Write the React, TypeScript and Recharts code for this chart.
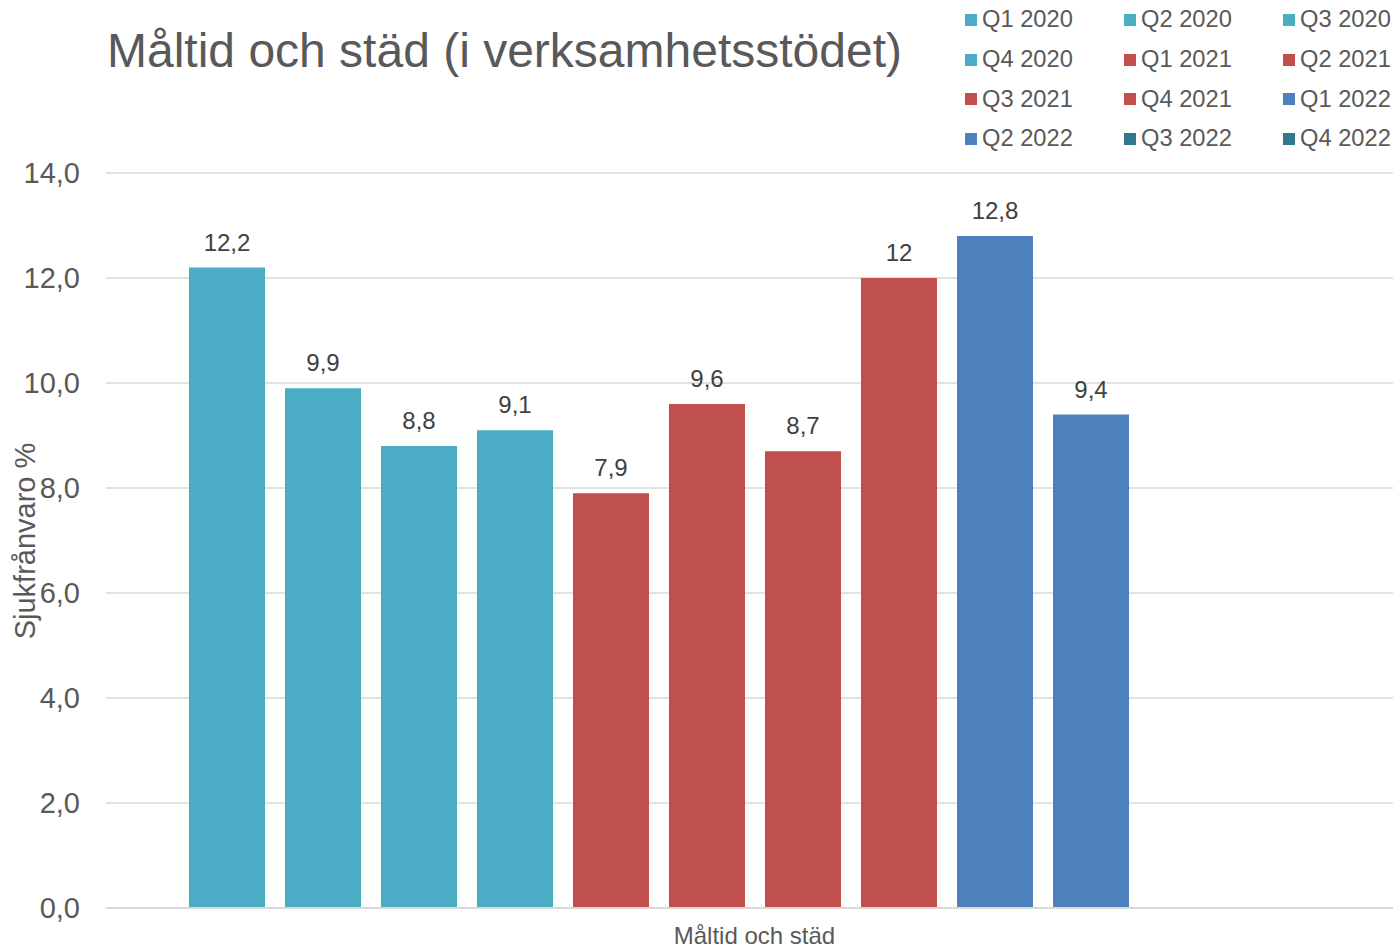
import { BarChart, Bar, XAxis, YAxis, CartesianGrid, Legend, LabelList } from 'recharts';

const CATEGORIES = ['Måltid och städ'];
const SERIES = [
  'Q1 2020', 'Q2 2020', 'Q3 2020', 'Q4 2020',
  'Q1 2021', 'Q2 2021', 'Q3 2021', 'Q4 2021',
  'Q1 2022', 'Q2 2022', 'Q3 2022', 'Q4 2022',
];
// one value per series for the single category, null = no data yet
const VALUES: (number | null)[] = [12.2, 9.9, 8.8, 9.1, 7.9, 9.6, 8.7, 12, 12.8, 9.4, null, null];
const COLORS = [
  '#4BACC6', '#4BACC6', '#4BACC6', '#4BACC6',
  '#C0504D', '#C0504D', '#C0504D', '#C0504D',
  '#4F81BD', '#4F81BD', '#31788A', '#31788A',
];
const Y_TICKS = [0, 2, 4, 6, 8, 10, 12, 14];

const data = CATEGORIES.map((cat) => {
  const row: Record<string, any> = { name: cat };
  SERIES.forEach((s, i) => {
    if (VALUES[i] !== null) row[s] = VALUES[i];
  });
  return row;
});

const FONT = '"Liberation Sans", Arial, sans-serif';
const fmt = (v: any) => String(v).replace('.', ',');

function LegendGrid() {
  return (
    <div style={{ display: 'grid', gridTemplateColumns: 'repeat(3, 159px)', gridAutoRows: '39.7px', fontFamily: FONT }}>
      {SERIES.map((s, i) => (
        <div key={s} style={{ display: 'flex', alignItems: 'center', fontSize: 23.7, color: '#595959' }}>
          <span style={{ width: 12, height: 12, background: COLORS[i], marginRight: 5, display: 'inline-block' }} />
          {s}
        </div>
      ))}
    </div>
  );
}

export default function App() {
  return (
    <div style={{ position: 'absolute', left: 0, top: 0, width: 1393, height: 948, background: '#fff', fontFamily: FONT }}>
      <div style={{ position: 'absolute', left: 107, top: 27, fontSize: 48, lineHeight: '48px', color: '#595959', whiteSpace: 'nowrap' }}>
        Måltid och städ (i verksamhetsstödet)
      </div>
      <BarChart width={1393} height={948} data={data} margin={{ top: 173, right: 0, left: 0, bottom: 0 }} barGap={20} barSize={76}>
        <CartesianGrid vertical={false} stroke="#D9D9D9" strokeWidth={1.5} />
        <XAxis
          dataKey="name"
          height={40}
          padding={{ left: 10, right: 0 }}
          tickLine={false}
          axisLine={{ stroke: '#D9D9D9', strokeWidth: 2 }}
          tickMargin={13}
          tick={{ fill: '#595959', fontSize: 24, fontFamily: FONT }}
        />
        <YAxis
          width={106}
          domain={[0, 14]}
          ticks={Y_TICKS}
          tickFormatter={(v: number) => v.toFixed(1).replace('.', ',')}
          axisLine={false}
          tickLine={false}
          tickMargin={20}
          tick={{ fill: '#595959', fontSize: 29, fontFamily: FONT }}
          label={{
            content: () => (
              <text x={25} y={541} transform="rotate(-90, 25, 541)" textAnchor="middle" dominantBaseline="central" fill="#595959" fontSize={29} fontFamily={FONT}>
                Sjukfrånvaro %
              </text>
            ),
          }}
        />
        <Legend
          verticalAlign="middle"
          layout="horizontal"
          align="center"
          wrapperStyle={{ top: 0, left: 965, width: 430 }}
          content={() => <LegendGrid />}
        />
        {SERIES.map((s, i) => (
          <Bar key={s} dataKey={s} fill={COLORS[i]} isAnimationActive={false}>
            <LabelList dataKey={s} position="top" offset={17} formatter={fmt} fill="#404040" fontSize={24} fontFamily={FONT} />
          </Bar>
        ))}
      </BarChart>
    </div>
  );
}
